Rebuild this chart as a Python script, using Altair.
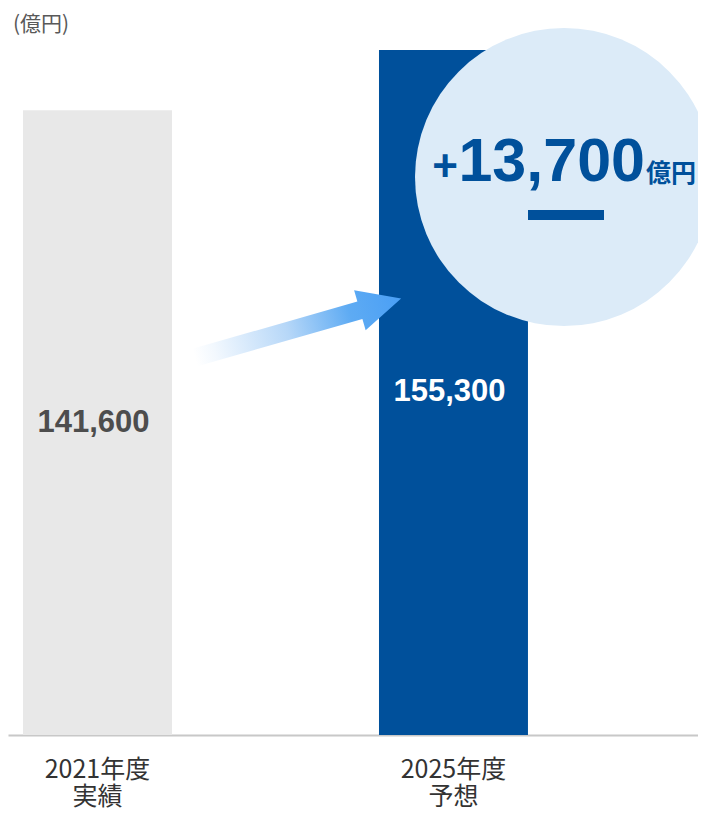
import altair as alt
import pandas as pd

# ---- data ----
years = ["2021年度", "2025年度"]
kinds = ["実績", "予想"]
values = [141600, 155300]
unit_label = "(億円)"
diff_unit = "億円"

# ---- styles ----
bar_colors = ["#E8E8E8", "#00509B"]
label_colors = ["#4D4D4D", "#FFFFFF"]
BLUE = "#00509B"
CIRCLE = "#DCEBF8"

df = pd.DataFrame({
    "cat": [f"{y}|{k}" for y, k in zip(years, kinds)],
    "value": values,
    "bar_color": bar_colors,
    "label_color": label_colors,
})
diff_df = pd.DataFrame({"diff": [values[1] - values[0]], "unit": [diff_unit]})

W, H = 690, 727
yscale = alt.Scale(domain=[0, 164800], nice=False, zero=True)

x = alt.X(
    "cat:N", sort=None, title=None,
    scale=alt.Scale(paddingInner=0.5815, paddingOuter=0.2599, align=0.0811),
    axis=alt.Axis(
        labelExpr="split(datum.value, '|')", labelAngle=0, labelFontSize=25,
        labelFont="Noto Sans CJK JP", labelColor="#333333", labelLineHeight=27,
        labelPadding=22, ticks=False, domainColor="#C8C8C8", domainWidth=2,
        grid=False, labelBaseline="top",
    ),
)

bars = alt.Chart(df).mark_bar().encode(
    x=x,
    y=alt.Y("value:Q", scale=yscale, axis=None),
    color=alt.Color("bar_color:N", scale=None),
)

vals = alt.Chart(df).transform_calculate(mid="datum.value / 2").mark_text(
    font="Liberation Sans", fontWeight="bold", fontSize=31, dx=-4, baseline="middle"
).encode(
    x=x,
    y=alt.Y("mid:Q", scale=yscale, axis=None),
    text=alt.Text("value:Q", format=","),
    color=alt.Color("label_color:N", scale=None),
)

arrow_path = "M -1 -0.085 L 0.6 -0.085 L 0.6 -0.195 L 1 0 L 0.6 0.195 L 0.6 0.085 L -1 0.085 Z"
grad = alt.Gradient(
    gradient="linear",
    stops=[
        alt.GradientStop(color="#ffffff", offset=0),
        alt.GradientStop(color="#f2f8fe", offset=0.1),
        alt.GradientStop(color="#b6d7f8", offset=0.45),
        alt.GradientStop(color="#5eabf3", offset=0.75),
        alt.GradientStop(color="#4a9ff5", offset=1),
    ],
    x1=0, x2=1, y1=0, y2=0,
)
arrow = alt.Chart(diff_df).mark_point(
    shape=arrow_path, size=46050, angle=344, filled=True, fill=grad,
    strokeWidth=0, opacity=1,
).encode(x=alt.value(290), y=alt.value(320))

circle = alt.Chart(diff_df).mark_point(
    shape="circle", size=88804, filled=True, fill=CIRCLE, strokeWidth=0, opacity=1
).encode(x=alt.value(556), y=alt.value(169))

plus = alt.Chart(diff_df).mark_text(
    text="+", font="Liberation Sans", fontWeight="bold", fontSize=44,
    align="right", baseline="alphabetic", color=BLUE,
).encode(x=alt.value(450), y=alt.value(173))

diff_txt = alt.Chart(diff_df).mark_text(
    font="Liberation Sans", fontWeight="bold", fontSize=61,
    align="right", baseline="alphabetic", color=BLUE,
).encode(x=alt.value(637), y=alt.value(173), text=alt.Text("diff:Q", format=","))

unit_txt = alt.Chart(diff_df).mark_text(
    font="Noto Sans CJK JP", fontWeight="bold", fontSize=25,
    align="left", baseline="alphabetic", color=BLUE,
).encode(x=alt.value(638), y=alt.value(174), text="unit:N")

underline = alt.Chart(diff_df).mark_rect(color=BLUE).encode(
    x=alt.value(520), x2=alt.value(596), y=alt.value(202), y2=alt.value(212)
)

unit_title = alt.Chart(diff_df).mark_text(
    text=unit_label, font="Noto Sans CJK JP", fontSize=21, align="left",
    baseline="top", color="#595959",
).encode(x=alt.value(5), y=alt.value(6))

chart = alt.layer(
    bars, vals, arrow, circle, plus, diff_txt, unit_txt, underline, unit_title
).properties(
    width=W, height=H,
    padding={"left": 0, "right": 0, "top": 0, "bottom": 76},
    autosize=alt.AutoSizeParams(type="none"),
    background="white",
).configure_view(stroke=None)

chart.save("out.html", embed_options={"renderer": "svg", "actions": False})
